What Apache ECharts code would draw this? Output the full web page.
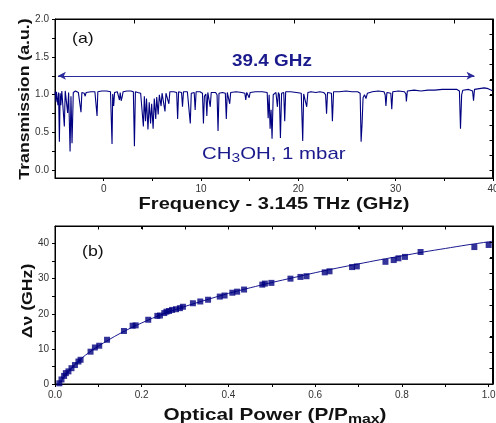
<!DOCTYPE html>
<html>
<head>
<meta charset="utf-8">
<script src="https://cdn.jsdelivr.net/npm/echarts@6/dist/echarts.min.js"></script>
<style>
html,body{margin:0;padding:0;background:#fff;}
#c{width:496px;height:423px;}
</style>
</head>
<body>
<div id="c"></div>
<script>
// ---- Panel (a): transmission spectrum ----
const freqGHz = [
-5.0,-4.95,-4.9,-4.85,-4.75,-4.7,-4.63,-4.55,-4.47,-4.4,-4.3,-4.2,-4.04,-3.95,-3.8,-3.7,-3.6,-3.45,-3.36,-3.25,-3.12,
-2.9,-2.6,-2.4,-2.33,-2.24,-2.0,-1.9,-1.8,-1.3,-0.9,-0.75,-0.68,-0.6,-0.2,0.3,0.7,0.8,0.86,0.93,1.03,1.12,1.4,1.55,
1.62,1.7,1.8,1.9,2.0,2.4,2.8,3.05,3.16,3.26,3.5,3.8,3.95,4.08,4.18,4.3,4.4,4.55,4.68,4.82,4.93,5.08,5.2,5.35,5.45,
5.6,5.72,5.9,6.0,6.2,6.3,6.4,6.6,6.7,6.8,7.2,7.5,7.6,7.7,8.0,8.1,8.2,8.6,8.8,8.9,9.0,9.3,9.4,9.5,9.9,10.15,10.25,
10.35,10.5,10.6,10.7,10.85,10.95,11.05,11.5,11.65,11.75,11.85,12.2,12.5,12.6,12.7,12.85,12.95,13.05,13.6,14.2,14.5,
14.6,14.7,14.95,15.05,15.6,16.3,16.8,16.9,17.0,17.1,17.2,17.3,17.42,17.7,17.85,17.95,18.05,18.16,18.28,18.5,18.6,
18.7,19.2,19.8,20.3,20.45,20.55,20.75,20.86,20.98,21.3,21.8,22.2,22.6,22.8,22.9,23.0,23.4,23.5,23.62,24.2,24.9,
25.5,26.1,26.35,26.45,26.55,26.65,26.8,26.95,27.1,27.6,28.2,28.8,28.92,29.0,29.1,29.5,29.6,29.7,30.3,30.9,31.05,
31.1,31.2,31.9,32.6,33.3,34.0,34.8,35.6,36.3,36.55,36.66,36.78,36.9,37.5,37.9,38.0,38.1,38.6,39.1,39.5,40.0
];
const transmission = [
1.00,1.04,0.90,1.04,1.05,0.86,1.03,0.38,1.02,0.86,1.05,1.05,0.58,1.05,1.04,0.76,1.03,0.25,0.98,0.36,1.03,
1.05,1.03,1.02,0.77,1.03,1.02,0.98,1.03,1.04,1.04,1.03,0.72,1.04,1.05,1.05,1.04,1.03,0.35,1.01,0.85,1.03,1.04,1.02,
0.93,1.03,0.92,0.97,1.04,1.05,1.05,1.04,0.32,1.04,1.03,1.02,1.00,0.58,0.98,0.65,0.95,0.54,0.90,0.62,0.88,0.55,0.95,0.68,0.97,
0.74,1.00,0.85,1.02,1.02,0.78,1.02,1.03,0.88,1.04,1.04,1.03,0.68,1.04,1.03,0.84,1.04,1.04,1.03,0.62,1.02,1.03,0.80,1.04,1.04,1.02,0.62,
0.98,1.01,0.72,1.03,1.03,0.84,1.03,1.03,1.00,0.52,1.02,1.03,1.02,0.68,1.03,1.02,0.88,1.03,1.04,1.03,1.02,
0.93,1.03,0.96,1.03,1.04,1.04,1.03,0.69,1.00,0.55,0.80,0.42,1.00,1.03,0.84,1.03,1.00,0.43,1.02,1.03,0.65,
1.04,1.04,1.03,1.02,0.39,1.01,1.02,0.84,1.03,1.04,1.03,1.04,1.03,1.00,0.75,1.03,1.02,0.65,1.04,1.04,1.05,
1.04,1.04,1.02,0.38,0.62,0.96,1.00,0.95,1.02,1.04,1.05,1.04,1.00,0.85,1.03,1.02,0.81,1.04,1.05,1.04,1.01,
0.91,1.05,1.06,1.05,1.06,1.06,1.07,1.07,1.07,1.05,0.55,1.00,1.06,1.07,1.05,0.92,1.07,1.08,1.09,1.08,1.05
];
const spanArrowGHz = [-4.7, 38.1];   // arrow ends
const spanArrowLevel = 1.25;
const freqTickLabels = [0, 10, 20, 30, 40];
const freqTicks = [0, 5, 10, 15, 20, 25, 30, 35, 40];
const transTickLabels = [0, 0.5, 1.0, 1.5, 2.0];
const transTicks = [0, 0.25, 0.5, 0.75, 1.0, 1.25, 1.5, 1.75, 2.0];
const freqTopTicks = [3.16, 11.38, 19.6, 27.8, 36.0];
const transRightTicks = [0, 0.2, 0.4, 0.6, 0.8, 1.0, 1.2, 1.4, 1.6, 1.8];

// ---- Panel (b): frequency span vs optical power ----
const powerRatio = [0.010,0.015,0.021,0.025,0.031,0.038,0.046,0.054,0.059,0.082,0.092,0.102,0.120,0.159,0.179,0.186,
0.215,0.236,0.242,0.252,0.257,0.263,0.270,0.279,0.288,0.295,0.318,0.335,0.353,0.380,0.391,0.409,0.420,0.436,
0.478,0.484,0.499,0.543,0.566,0.580,0.622,0.633,0.685,0.696,0.762,0.781,0.792,0.807,0.843,0.967,1.000];
const spanGHz = [0.2,1.3,2.3,3.1,3.6,4.5,5.4,6.4,6.9,9.2,10.4,10.9,12.6,15.1,16.6,16.7,
18.3,19.4,19.5,20.2,20.6,20.8,21.1,21.3,21.6,22.0,23.0,23.5,24.0,24.9,25.2,26.0,26.3,26.9,
28.3,28.6,28.8,30.0,30.5,30.7,31.8,32.1,33.3,33.5,34.8,35.3,35.8,36.2,37.6,39.0,39.6];
const fitPower = [0.008,0.02,0.04,0.06,0.08,0.10,0.15,0.20,0.25,0.30,0.35,0.40,0.45,0.50,0.55,0.60,0.65,0.70,0.75,0.80,0.85,0.90,0.95,1.00,1.01];
const fitSpan  = [0.0,1.8,4.8,7.2,9.1,10.8,14.4,17.4,20.0,22.1,24.0,25.8,27.4,28.9,30.3,31.7,33.0,34.2,35.4,36.5,37.6,38.6,39.6,40.5,40.7];
const powerTickLabels = [0, 0.2, 0.4, 0.6, 0.8, 1.0];
const powerTicks = [0, 0.1, 0.2, 0.3, 0.4, 0.5, 0.6, 0.7, 0.8, 0.9, 1.0];
const powerTopTicks = [0.1, 0.2, 0.3, 0.4, 0.5, 0.6, 0.7, 0.8, 0.9];
const spanTickLabels = [0, 10, 20, 30, 40];
const spanTicks = [0, 5, 10, 15, 20, 25, 30, 35, 40];
const spanRightTicks = [0, 4.5, 9, 13.5, 18, 22.5, 27, 31.5, 36, 40.5];

const FONT = "'Liberation Sans', Arial, Helvetica, sans-serif";
const NAVY = '#000080';
const AX = {color: '#000', width: 1};
const LBL = {fontSize: 10, color: '#333', fontFamily: FONT};

function zip(a, b) { return a.map((v, i) => [v, b[i]]); }

function axis(grid, pos, min, max, ticks, tickLen, inside, labels, fmt) {
  return {
    type: 'value', gridIndex: grid, position: pos, min: min, max: max,
    splitLine: {show: false},
    axisLine: {show: true, onZero: false, lineStyle: AX},
    axisTick: {show: true, inside: inside, length: tickLen, customValues: ticks, lineStyle: AX},
    axisLabel: Object.assign({show: true, margin: 6, customValues: labels || ticks,
      formatter: labels ? fmt : (() => '')}, LBL)
  };
}
const f1 = v => Number(v).toFixed(1);
const f0 = v => String(v);

const chart = echarts.init(document.getElementById('c'), null, {renderer: 'canvas'});
const S = 1.18;
chart.setOption({
  animation: false,
  backgroundColor: '#fff',
  grid: [
    {left: 55, top: 19, width: 438, height: 159, outerBoundsMode: 'none', containLabel: false,
     show: true, borderColor: '#000', borderWidth: 1, backgroundColor: 'rgba(255,255,255,0)'},
    {left: 55, top: 226, width: 438, height: 158, outerBoundsMode: 'none', containLabel: false,
     show: true, borderColor: '#000', borderWidth: 1, backgroundColor: 'rgba(255,255,255,0)'}
  ],
  xAxis: [
    axis(0, 'bottom', -5, 40, freqTicks, 3, false, freqTickLabels, f0),
    axis(0, 'top', -5, 40, freqTopTicks, 4, true, null, null),
    axis(1, 'bottom', 0, 1.01, powerTicks, 3, false, powerTickLabels, f1),
    axis(1, 'top', 0, 1.01, powerTopTicks, 3, true, null, null)
  ],
  yAxis: [
    axis(0, 'left', -0.1, 2.0, transTicks, 3, false, transTickLabels, f1),
    axis(0, 'right', -0.1, 2.0, transRightTicks, 3, true, null, null),
    axis(1, 'left', 0, 45, spanTicks, 3, false, spanTickLabels, f0),
    axis(1, 'right', 0, 45, spanRightTicks, 3, true, null, null)
  ],
  series: [
    {type: 'line', xAxisIndex: 0, yAxisIndex: 0, data: zip(freqGHz, transmission),
     showSymbol: false, symbol: 'none', lineStyle: {color: NAVY, width: 1.1}, z: 3,
     markLine: {silent: true, symbol: ['arrow', 'arrow'], symbolSize: [6, 8],
       label: {show: false}, lineStyle: {color: '#2a2a9a', width: 1, type: 'solid'},
       data: [[{coord: [spanArrowGHz[0], spanArrowLevel]}, {coord: [spanArrowGHz[1], spanArrowLevel]}]]}},
    {type: 'line', xAxisIndex: 2, yAxisIndex: 2, data: zip(fitPower, fitSpan), smooth: 0.3,
     showSymbol: false, symbol: 'none', lineStyle: {color: '#1a1a90', width: 1}, z: 2},
    {type: 'scatter', xAxisIndex: 2, yAxisIndex: 2, data: zip(powerRatio, spanGHz),
     symbol: 'rect', symbolSize: 6, itemStyle: {color: NAVY}, z: 3}
  ],
  graphic: [
    {type: 'text', x: 72, y: 39, scaleX: S, style: {text: '(a)', fontSize: 15, fontFamily: FONT, fill: '#111', verticalAlign: 'middle'}},
    {type: 'text', x: 82, y: 252, scaleX: S, style: {text: '(b)', fontSize: 15, fontFamily: FONT, fill: '#111', verticalAlign: 'middle'}},
    {type: 'text', x: 272, y: 62, scaleX: S, style: {text: '39.4 GHz', fontSize: 16, fontWeight: 'bold', fontFamily: FONT, fill: '#1a1a8c', align: 'center', verticalAlign: 'middle'}},
    {type: 'text', x: 202, y: 154, scaleX: 1.2, style: {
      text: '{a|CH}{s|3}{a|OH, 1 mbar}', fill: '#1a1a8c', verticalAlign: 'middle',
      rich: {a: {fontSize: 17, fontFamily: FONT, fill: '#1a1a8c'},
             s: {fontSize: 13, fontFamily: FONT, fill: '#1a1a8c', padding: [9, 0, 0, 0]}}}},
    {type: 'text', x: 274, y: 204, scaleX: S, style: {text: 'Frequency - 3.145 THz (GHz)', fontSize: 17, fontWeight: 'bold', fontFamily: FONT, fill: '#111', align: 'center', verticalAlign: 'middle'}},
    {type: 'text', x: 25, y: 99, rotation: Math.PI / 2, scaleX: S, style: {text: 'Transmission (a.u.)', fontSize: 15, fontWeight: 'bold', fontFamily: FONT, fill: '#111', align: 'center', verticalAlign: 'middle'}},
    {type: 'text', x: 28, y: 301, rotation: Math.PI / 2, scaleX: S, style: {text: 'Δν (GHz)', fontSize: 15, fontWeight: 'bold', fontFamily: FONT, fill: '#111', align: 'center', verticalAlign: 'middle'}},
    {type: 'text', x: 275, y: 415, scaleX: 1.22, style: {
      text: '{a|Optical Power (P/P}{s|max}{a|)}', fill: '#111', align: 'center', verticalAlign: 'middle',
      rich: {a: {fontSize: 17, fontWeight: 'bold', fontFamily: FONT, fill: '#111'},
             s: {fontSize: 13, fontWeight: 'bold', fontFamily: FONT, fill: '#111', padding: [8, 0, 0, 0]}}}}
  ]
});

// Safety net: draw the closed plot frames and the inward mirror ticks from the axis scales
try {
  const zr = chart.getZr();
  const G = echarts.graphic;
  function px(xi, yi, v) { return chart.convertToPixel({xAxisIndex: xi, yAxisIndex: yi}, v); }
  function seg(x1, y1, x2, y2) {
    zr.add(new G.Line({shape: {x1: x1, y1: y1, x2: x2, y2: y2}, style: {stroke: '#000', lineWidth: 1}, z: 50}));
  }
  function frame(xi, yi, xMin, xMax, yMin, yMax, topTicks, topLen, rightTicks, rightLen) {
    const tl = px(xi, yi, [xMin, yMax]);
    const br = px(xi, yi, [xMax, yMin]);
    const L = Math.round(tl[0]) + 0.5, T = Math.round(tl[1]) + 0.5;
    const R = Math.round(br[0]) - 0.5, B = Math.round(br[1]) - 0.5;
    seg(L, T, R, T);
    seg(R, T, R, B);
    topTicks.forEach(v => { const x = Math.round(px(xi, yi, [v, yMax])[0]) + 0.5; seg(x, T, x, T + topLen); });
    rightTicks.forEach(v => { const y = Math.round(px(xi, yi, [xMax, v])[1]) + 0.5; seg(R, y, R - rightLen, y); });
  }
  frame(0, 0, -5, 40, -0.1, 2.0, freqTopTicks, 4, transRightTicks, 3);
  frame(2, 2, 0, 1.01, 0, 45, powerTopTicks, 3, spanRightTicks, 3);
} catch (e) { /* frame is decorative only */ }
</script>
</body>
</html>
